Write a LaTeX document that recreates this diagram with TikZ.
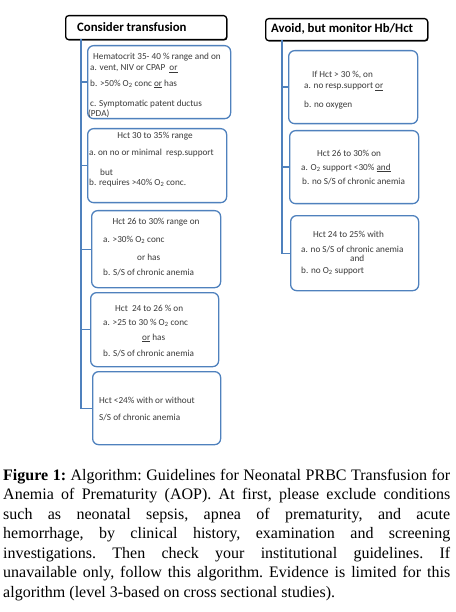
\documentclass[tikz,border=0pt]{standalone}
\usepackage{fontspec}
\setmainfont{Liberation Serif}
\newfontfamily\boxfont{Carlito}
\usetikzlibrary{shadows}
\definecolor{boxblue}{HTML}{4F81BD}
\definecolor{txtgray}{HTML}{3A3A3A}
\tikzset{
  header/.style={draw=black, line width=1.3pt, rounded corners=3pt, fill=white, anchor=north west, inner sep=0pt,
     drop shadow={shadow xshift=0.8pt, shadow yshift=-0.8pt, fill=black, opacity=1}},
  hbox/.style={draw=boxblue, line width=1.3pt, rounded corners=6pt, fill=white, anchor=north west, inner sep=0pt},
  conn/.style={draw=boxblue, line width=1.3pt},
  htext/.style={font=\boxfont\bfseries\fontsize{12.8}{14}\selectfont, anchor=west, inner sep=0pt},
  btext/.style={font=\boxfont\fontsize{9.2}{10}\selectfont, text=txtgray, anchor=west, inner sep=0pt},
}
\newcommand{\Ot}{O\textsubscript{2}}
\begin{document}
\begin{tikzpicture}[x=1pt,y=-1pt]
\useasboundingbox (0,0) rectangle (455,612);
% headers
\node[header, minimum width=161pt, minimum height=24pt] (hL) at (65,15) {};
\node[htext] (hLt) at (77,27) {Consider transfusion};
\node[header, minimum width=162pt, minimum height=22pt] (hR) at (265,18) {};
\node[htext] (hRt) at (271,29) {Avoid, but monitor Hb/Hct};
% left column boxes
\node[hbox, minimum width=143pt, minimum height=73pt] (b1) at (87,45) {};
\node[hbox, minimum width=139pt, minimum height=74pt] (b2) at (87,128) {};
\node[hbox, minimum width=129pt, minimum height=77pt] (b3) at (91,210) {};
\node[hbox, minimum width=128pt, minimum height=74pt] (b4) at (90,292) {};
\node[hbox, minimum width=128pt, minimum height=73pt] (b5) at (92,371) {};
% right column boxes
\node[hbox, minimum width=129pt, minimum height=73pt] (r1) at (288,50) {};
\node[hbox, minimum width=129pt, minimum height=73pt] (r2) at (289,130) {};
\node[hbox, minimum width=128pt, minimum height=75pt] (r3) at (290,215) {};
% connectors
\coordinate (lTop) at (81,39);
\coordinate (rTop) at (282,40);
\draw[conn] (lTop) |- (b5.west);
\foreach \b in {b1,b2,b3,b4} \draw[conn] (\b.west -| lTop) -- (\b.west);
\draw[conn] (rTop) |- (r3.west);
\foreach \b in {r1,r2} \draw[conn] (\b.west -| rTop) -- (\b.west);
% box 1
\node[btext] (t11) at (93,57) {Hematocrit 35- 40 \% range and on};
\node[btext] (t12) at (90,69) {a. vent, NIV or CPAP \ \underline{or}};
\node[btext] (t13) at (90,84) {b. >50\% \Ot{} conc \underline{or} has};
\node[btext] (t14) at (90,104) {c. Symptomatic patent ductus};
\node[btext] (t15) at (88,114) {(PDA)};
% box 2
\node[btext, anchor=center] (t21) at (155,136) {Hct 30 to 35\% range};
\node[btext] (t22) at (89,153) {a.\ on no or minimal \ resp.support};
\node[btext] (t23) at (100,172) {but};
\node[btext] (t24) at (89,183) {b. requires >40\% \Ot{} conc.};
% box 3
\node[btext, anchor=center] (t31) at (156,222) {Hct 26 to 30\% range on};
\node[btext] (t32) at (103,240) {a. >30\% \Ot{} conc};
\node[btext] (t33) at (137,257) {or has};
\node[btext] (t34) at (103,272) {b. S/S of chronic anemia};
% box 4
\node[btext] (t41) at (115,308) {Hct \ 24 to 26 \% on};
\node[btext] (t42) at (103,323) {a. >25 to 30 \% \Ot{} conc};
\node[btext] (t43) at (142,338) {\underline{or} has};
\node[btext] (t44) at (103,353) {b. S/S of chronic anemia};
% box 5
\node[btext] (t51) at (99,400) {Hct <24\% with or without};
\node[btext] (t52) at (99,417) {S/S of chronic anemia};
% right box 1
\node[btext] (u11) at (312,75) {If Hct > 30 \%, on};
\node[btext] (u12) at (304,87) {a. no resp.support \underline{or}};
\node[btext] (u13) at (304,105) {b. no oxygen};
% right box 2
\node[btext] (u21) at (317,153) {Hct 26 to 30\% on};
\node[btext] (u22) at (301,168) {a. \Ot{} support <30\% \underline{and}};
\node[btext] (u23) at (302,182) {b. no S/S of chronic anemia};
% right box 3
\node[btext] (u31) at (313,234) {Hct 24 to 25\% with};
\node[btext] (u32) at (301,250) {a. no S/S of chronic anemia};
\node[btext] (u33) at (350,258) {and};
\node[btext] (u34) at (301,271) {b. no \Ot{} support};
% caption
\node[anchor=north west, inner sep=0pt, text width=447pt, align=justify,
      font=\fontsize{16}{19.5}\selectfont\frenchspacing] (cap) at (3,469) {%
\textbf{Figure 1:} Algorithm: Guidelines for Neonatal PRBC Transfusion for\linebreak
Anemia of Prematurity (AOP). At first, please exclude conditions\linebreak
such as neonatal sepsis, apnea of prematurity, and acute\linebreak
hemorrhage, by clinical history, examination and screening\linebreak
investigations. Then check your institutional guidelines. If\linebreak
unavailable only, follow this algorithm. Evidence is limited for this\linebreak
algorithm (level 3-based on cross sectional studies).};
\end{tikzpicture}
\end{document}
